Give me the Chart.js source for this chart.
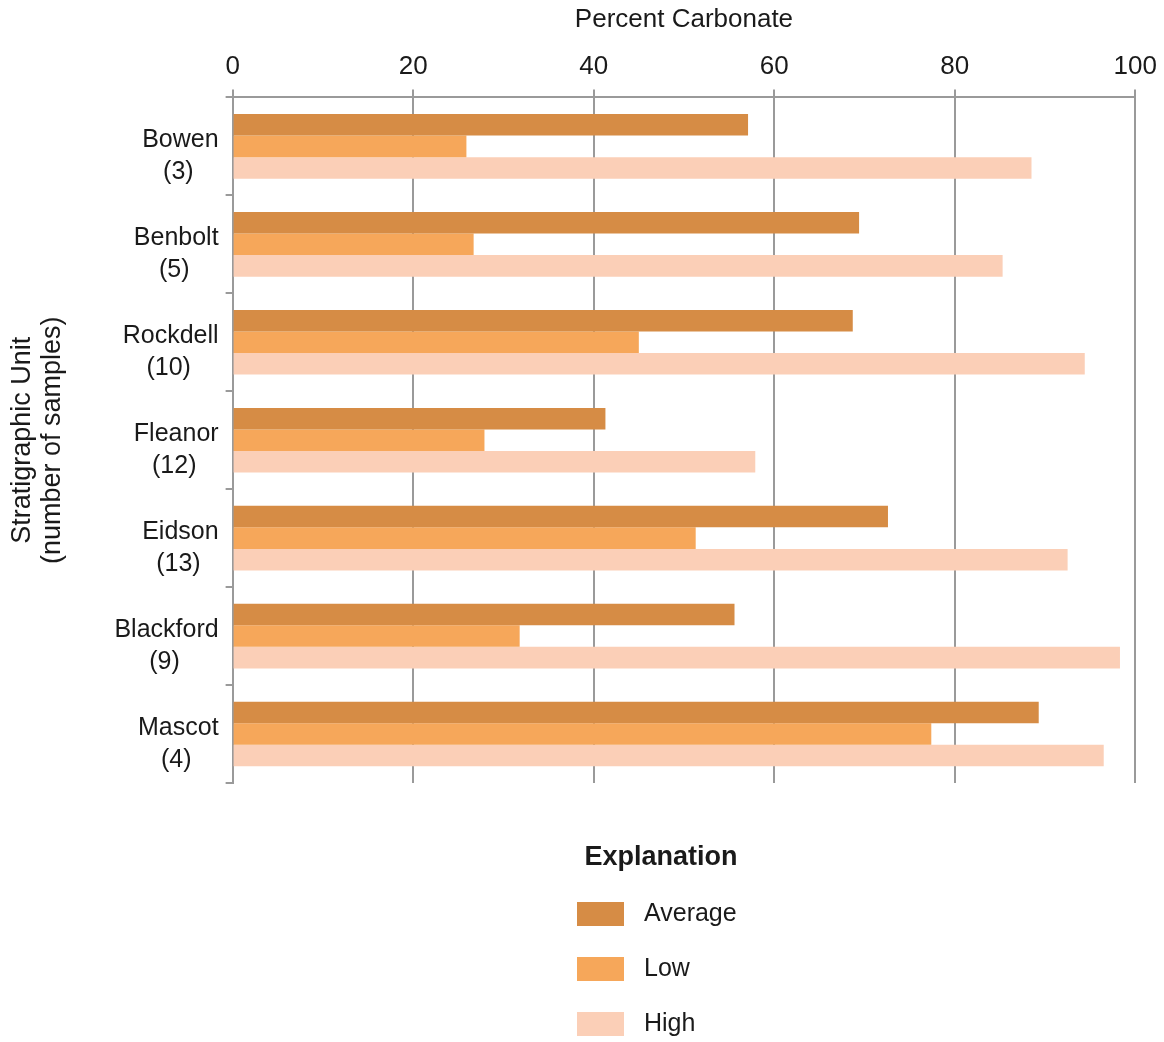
<!DOCTYPE html>
<html>
<head>
<meta charset="utf-8">
<script src="https://cdn.jsdelivr.net/npm/chart.js@4"></script>
<style>
  html, body { margin: 0; padding: 0; background: #fff; }
  #wrap { width: 1164px; height: 1042px; position: relative; }
</style>
</head>
<body>
<div id="wrap"><canvas id="chart"></canvas></div>
<script>
// chart data
var units = ["Bowen", "Benbolt", "Rockdell", "Fleanor", "Eidson", "Blackford", "Mascot"];
var sampleCounts = [3, 5, 10, 12, 13, 9, 4];
var average = [57.1, 69.4, 68.7, 41.3, 72.6, 55.6, 89.3];
var low = [25.9, 26.7, 45.0, 27.9, 51.3, 31.8, 77.4];
var high = [88.5, 85.3, 94.4, 57.9, 92.5, 98.3, 96.5];
var xTicks = [0, 20, 40, 60, 80, 100];

var FONT = "'Liberation Sans', Arial, sans-serif";
var GRID = "#9a9a9a";
var INK = "#1a1a1a";

// two line labels: name + (count)
var labels = units.map(function(u, i) { return [u, "(" + sampleCounts[i] + ")"]; });

// draws the y labels (name right aligned, count centred under it) and the legend
var extras = {
  id: "extras",
  afterDraw: function(chart) {
    var ctx = chart.ctx;
    var y = chart.scales.y;
    var right = y.right - 14;
    ctx.save();
    ctx.fillStyle = INK;
    ctx.font = "25px " + FONT;
    ctx.textBaseline = "middle";
    labels.forEach(function(l, i) {
      var py = y.getPixelForValue(i);
      var w = ctx.measureText(l[0]).width;
      ctx.textAlign = "right";
      ctx.fillText(l[0], right, py - 6);
      ctx.textAlign = "center";
      ctx.fillText(l[1], right - w / 2 - 2, py + 26);
    });

    // legend
    ctx.textAlign = "center";
    ctx.font = "bold 27px " + FONT;
    ctx.fillText("Explanation", 661, 858);
    ctx.font = "25px " + FONT;
    ctx.textAlign = "left";
    chart.data.datasets.forEach(function(ds, i) {
      var cy = 914 + i * 55;
      ctx.fillStyle = ds.backgroundColor;
      ctx.fillRect(577, cy - 12, 47, 24);
      ctx.fillStyle = INK;
      ctx.fillText(ds.label, 644, cy);
    });
    ctx.restore();
  }
};

new Chart(document.getElementById("chart"), {
  type: "bar",
  data: {
    labels: labels,
    datasets: [
      { label: "Average", data: average, backgroundColor: "#d68c45" },
      { label: "Low", data: low, backgroundColor: "#f6a75a" },
      { label: "High", data: high, backgroundColor: "#fbcfb7" }
    ]
  },
  options: {
    indexAxis: "y",
    responsive: true,
    maintainAspectRatio: false,
    animation: false,
    categoryPercentage: 0.66,
    barPercentage: 1.0,
    layout: { padding: { top: 4, right: 9, bottom: 259, left: 6 } },
    plugins: {
      legend: { display: false },
      tooltip: { enabled: false }
    },
    scales: {
      x: {
        position: "top",
        min: 0,
        max: 100,
        afterBuildTicks: function(axis) {
          axis.ticks = xTicks.map(function(v) { return { value: v }; });
        },
        grid: { color: GRID, lineWidth: 2, tickLength: 8 },
        border: { color: GRID, width: 2 },
        ticks: { color: INK, font: { family: FONT, size: 26 }, padding: 7 },
        title: {
          display: true,
          text: "Percent Carbonate",
          color: INK,
          font: { family: FONT, size: 26 },
          padding: { top: 0, bottom: 9 }
        }
      },
      y: {
        grid: { offset: true, drawOnChartArea: false, color: GRID, lineWidth: 2, tickLength: 7 },
        border: { color: GRID, width: 2 },
        ticks: { color: "rgba(0,0,0,0)", font: { family: FONT, size: 25 }, padding: 8 },
        title: {
          display: true,
          text: ["Stratigraphic Unit", "(number of samples)"],
          color: INK,
          font: { family: FONT, size: 27, lineHeight: 1.1 },
          padding: { top: 2, bottom: 38 }
        }
      }
    }
  },
  plugins: [extras]
});
</script>
</body>
</html>
